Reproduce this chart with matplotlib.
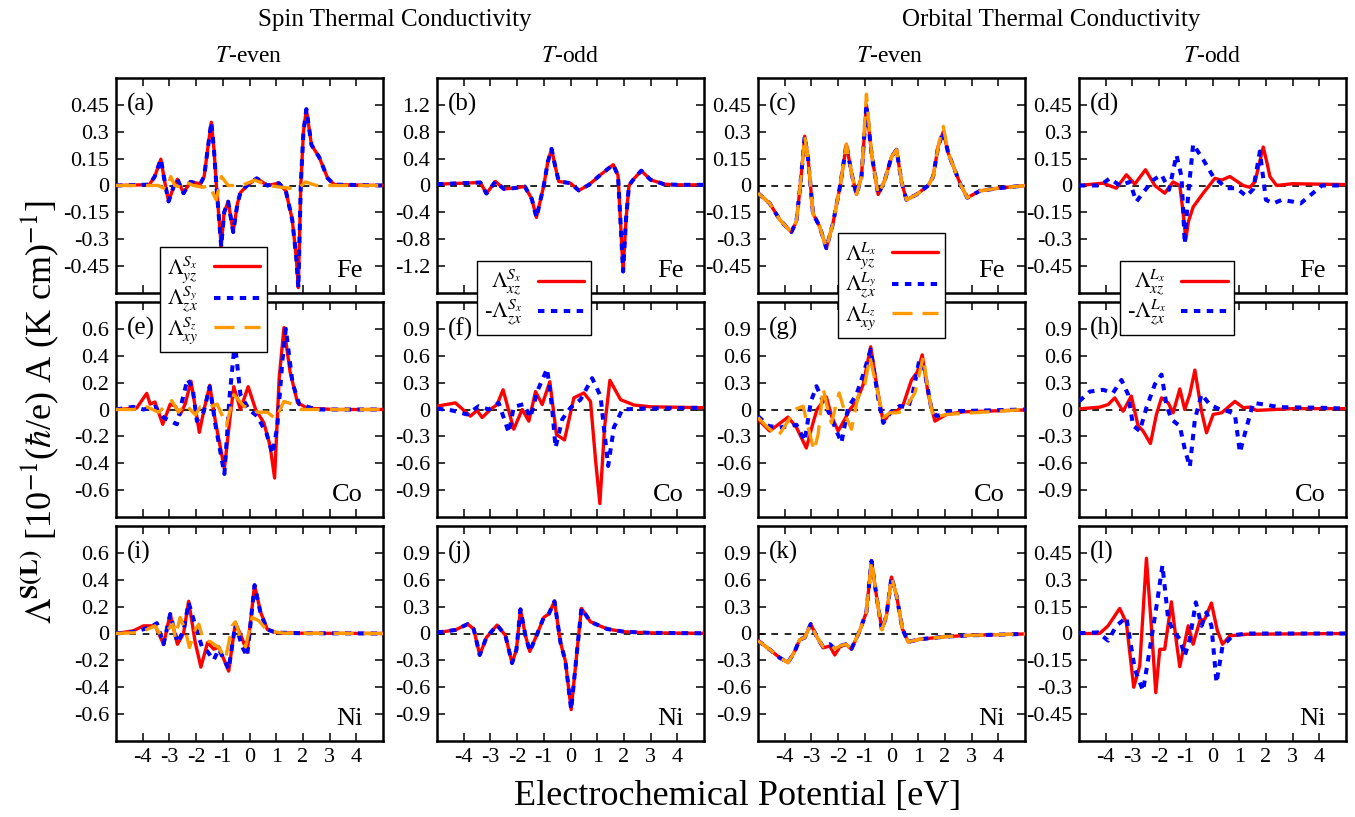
import matplotlib
matplotlib.use('Agg')
import matplotlib.pyplot as plt
from matplotlib.lines import Line2D
from matplotlib.ticker import FormatStrFormatter

plt.rcParams['font.family'] = ['Liberation Serif', 'DejaVu Serif']
plt.rcParams['mathtext.fontset'] = 'stix'
plt.rcParams['axes.unicode_minus'] = False

# ---------------- data ----------------
a_x_r = [-5, -3.75, -3.55, -3.32, -3.15, -3.03, -2.85, -2.7, -2.47, -2.22, -1.84, -1.7, -1.55, -1.43, -1.33, -1.24, -1.06, -0.95, -0.8, -0.61, -0.45, -0.34, -0.09, 0.27, 0.67, 1.1, 1.36, 1.6, 1.75, 1.83, 1.92, 2.02, 2.13, 2.32, 2.61, 2.93, 3.18, 5]
a_y_r = [0, 0.005, 0.05, 0.147, 0.0, -0.089, -0.01, 0.035, -0.043, 0.02, 0.01, 0.05, 0.22, 0.353, 0.2, 0.0, -0.34, -0.15, -0.09, -0.26, -0.1, -0.04, 0.0, 0.04, 0.0, 0.013, -0.03, -0.19, -0.4, -0.57, 0.0, 0.3, 0.426, 0.227, 0.158, 0.04, 0.005, 0]
a_x_o = [-5, -3.4, -3.3, -3.1, -2.95, -2.8, -2.55, -2.4, -2.1, -1.75, -1.5, -1.25, -1.05, -0.8, -0.3, 0.2, 0.7, 1.2, 1.8, 2.1, 2.5, 5]
a_y_o = [0, 0, -0.01, -0.02, 0.05, 0.0, -0.01, 0.02, 0.0, -0.01, 0.0, -0.08, 0.05, 0.0, 0.0, 0.03, 0.0, -0.01, -0.02, 0.02, 0.0, 0]

b_x = [-5, -4, -3.375, -3.15, -2.81, -2.5, -2.125, -1.71, -1.45, -1.275, -1.0, -0.85, -0.71, -0.58, -0.44, 0.0, 0.31, 0.69, 1.125, 1.6, 1.78, 1.88, 1.97, 2.08, 2.19, 2.375, 2.65, 3.0, 3.5, 4, 5]
b_y = [0.02, 0.035, 0.045, -0.12, 0.06, -0.05, -0.04, -0.015, -0.2, -0.476, 0.0, 0.35, 0.545, 0.3, 0.06, 0.035, -0.074, 0.01, 0.16, 0.31, 0.15, -0.6, -1.28, -0.5, 0.0, 0.1, 0.22, 0.085, 0.02, 0.01, 0.01]

c_x = [-5, -4.56, -4.19, -3.75, -3.56, -3.41, -3.25, -3.125, -2.94, -2.69, -2.44, -2.19, -1.91, -1.69, -1.5, -1.31, -1.125, -0.94, -0.75, -0.5, -0.25, 0.0, 0.19, 0.375, 0.56, 0.94, 1.375, 1.56, 1.75, 1.94, 2.125, 2.44, 2.6, 2.84, 3.31, 4, 5]
c_y_r = [-0.043, -0.1, -0.19, -0.26, -0.2, 0.01, 0.275, 0.15, -0.156, -0.23, -0.35, -0.21, 0.01, 0.23, 0.07, -0.05, 0.05, 0.45, 0.18, -0.05, 0.03, 0.16, 0.2, 0.02, -0.08, -0.05, 0.0, 0.05, 0.22, 0.3, 0.18, 0.06, 0.0, -0.068, -0.03, -0.015, 0]
c_y_o = [-0.043, -0.1, -0.19, -0.26, -0.2, 0.01, 0.275, 0.15, -0.156, -0.23, -0.35, -0.21, 0.01, 0.23, 0.07, -0.05, 0.05, 0.51, 0.18, -0.05, 0.03, 0.16, 0.2, 0.02, -0.08, -0.05, 0.0, 0.05, 0.22, 0.33, 0.18, 0.06, 0.0, -0.068, -0.03, -0.015, 0]

d_x_r = [-5, -4.1, -3.6, -3.225, -2.91, -2.51, -2.16, -1.79, -1.475, -1.225, -1.1, -1.0, -0.9, -0.725, -0.35, 0.09, 0.34, 0.65, 1.15, 1.4, 1.59, 1.75, 1.9, 2.05, 2.15, 2.4, 3, 5]
d_y_r = [0, 0.013, -0.015, 0.06, 0.008, 0.088, 0.0, -0.043, 0.02, 0.0, -0.15, -0.3, -0.2, -0.12, -0.043, 0.04, 0.03, 0.05, 0.0, -0.01, 0.02, 0.12, 0.215, 0.12, 0.05, 0.0, 0.01, 0.005]
d_x_b = [-5, -4.2, -3.85, -3.475, -3.1, -2.85, -2.6, -2.225, -1.91, -1.625, -1.35, -1.16, -1.04, -0.91, -0.725, -0.35, 0.025, 0.525, 0.9, 1.275, 1.525, 1.775, 2.0, 2.275, 2.6, 3.0, 3.3, 3.7, 4.1, 5]
d_y_b = [0, 0.0, 0.04, 0.0, 0.02, -0.09, -0.04, 0.03, 0.06, -0.024, 0.17, 0.05, -0.325, -0.05, 0.23, 0.145, 0.05, -0.015, -0.015, -0.06, -0.02, 0.19, -0.08, -0.1, -0.08, -0.09, -0.1, -0.05, 0.0, 0]

e_x_r = [-5, -4.23, -3.85, -3.72, -3.54, -3.25, -2.97, -2.78, -2.6, -2.41, -2.19, -1.88, -1.69, -1.49, -1.28, -0.94, -0.74, -0.59, -0.34, -0.05, 0.23, 0.54, 0.77, 0.94, 1.11, 1.29, 1.52, 1.8, 2.17, 3.18, 5]
e_y_r = [0, 0.01, 0.12, 0.04, 0.056, -0.11, 0.04, 0.025, -0.04, 0.04, 0.21, -0.17, 0.01, 0.18, -0.086, -0.44, -0.08, 0.17, 0.0, 0.17, 0.0, -0.1, -0.27, -0.51, 0.23, 0.61, 0.28, 0.05, 0.01, 0.0, 0]
e_x_b = [-5, -4.35, -3.97, -3.54, -3.22, -2.72, -2.47, -2.32, -2.13, -1.97, -1.72, -1.49, -1.28, -0.94, -0.74, -0.55, -0.34, -0.02, 0.29, 0.64, 0.86, 1.04, 1.23, 1.36, 1.61, 1.86, 2.5, 5]
e_y_b = [0, 0.02, 0.0, 0.02, -0.06, -0.11, 0.11, 0.225, 0.16, -0.086, -0.02, 0.17, -0.11, -0.48, 0.11, 0.5, 0.11, 0.0, -0.05, -0.18, -0.33, -0.13, 0.36, 0.6, 0.2, 0.04, 0.0, 0]
e_x_o = [-5, -4.35, -3.85, -3.41, -2.91, -2.66, -2.41, -2.03, -1.84, -1.47, -1.21, -0.86, -0.59, -0.21, 0.29, 0.67, 0.98, 1.29, 1.61, 1.92, 5]
e_y_o = [0, 0.0, 0.02, -0.02, 0.066, -0.02, 0.04, -0.04, 0.02, 0.02, 0.04, -0.12, 0.11, 0.025, -0.02, -0.02, -0.07, 0.06, 0.04, 0.0, 0]

f_x_r = [-5, -4.31, -3.75, -3.5, -3.31, -3.0, -2.75, -2.525, -2.125, -1.81, -1.56, -1.31, -1.06, -0.775, -0.525, -0.225, 0.125, 0.5, 0.75, 0.94, 1.1, 1.275, 1.475, 1.875, 2.375, 3.0, 5]
f_y_r = [0.037, 0.074, -0.074, -0.01, -0.09, 0.0, 0.055, 0.22, -0.22, 0.0, -0.13, 0.2, 0.055, 0.31, -0.28, -0.34, 0.13, 0.185, 0.09, -0.57, -1.05, -0.2, 0.326, 0.11, 0.05, 0.03, 0.02]
f_x_b = [-5, -4.44, -3.875, -3.44, -3.06, -2.69, -2.31, -2.125, -1.75, -1.5, -1.25, -0.875, -0.69, -0.56, -0.31, 0.0, 0.375, 0.81, 1.125, 1.25, 1.41, 1.625, 1.94, 2.625, 5]
f_y_b = [0.01, -0.01, -0.055, 0.037, 0.0, 0.074, -0.26, 0.03, 0.06, -0.09, 0.2, 0.455, 0.02, -0.425, -0.11, 0.02, 0.11, 0.35, 0.15, -0.2, -0.63, -0.2, 0.0, 0.01, 0.02]

g_x_r = [-5, -4.56, -4.25, -3.875, -3.56, -3.19, -2.94, -2.79, -2.44, -2.25, -2.0, -1.75, -1.56, -1.31, -1.06, -0.78, -0.56, -0.31, -0.06, 0.19, 0.44, 0.75, 0.97, 1.15, 1.375, 1.625, 2.06, 2.69, 5]
g_y_r = [-0.11, -0.24, -0.17, -0.085, -0.2, -0.43, -0.15, 0.0, 0.14, -0.07, -0.24, -0.11, 0.0, 0.09, 0.28, 0.7, 0.28, -0.14, -0.037, -0.02, 0.055, 0.33, 0.42, 0.61, 0.17, -0.13, -0.055, -0.026, -0.005]
g_x_b = [-5, -4.6, -4.19, -3.81, -3.56, -3.25, -3.02, -2.81, -2.56, -2.31, -2.06, -1.875, -1.625, -1.31, -1.06, -0.78, -0.5, -0.31, 0.0, 0.31, 0.625, 0.81, 1.04, 1.22, 1.5, 1.69, 2.19, 5]
g_y_b = [-0.074, -0.185, -0.2, -0.185, -0.17, -0.35, 0.09, 0.26, 0.09, -0.055, -0.24, -0.37, 0.02, 0.17, 0.39, 0.67, 0.13, -0.15, -0.02, 0.04, 0.02, 0.2, 0.55, 0.46, 0.0, -0.074, -0.02, 0]
g_x_o = [-5, -4.69, -4.25, -3.875, -3.625, -3.31, -3.125, -2.9, -2.75, -2.56, -2.375, -2.25, -1.96, -1.69, -1.5, -1.25, -1.0, -0.81, -0.5, -0.31, -0.06, 0.19, 0.44, 0.875, 1.19, 1.375, 1.56, 2.06, 5]
g_y_o = [-0.09, -0.185, -0.3, -0.13, 0.0, 0.037, -0.2, -0.46, -0.28, 0.24, -0.02, -0.15, 0.185, -0.09, -0.22, 0.15, 0.28, 0.59, 0.17, -0.09, -0.037, -0.037, -0.02, 0.185, 0.59, 0.2, -0.09, -0.055, 0]

h_x_r = [-5, -4.225, -3.91, -3.66, -3.35, -3.04, -2.79, -2.6, -2.325, -2.1, -1.91, -1.66, -1.475, -1.225, -1.04, -0.85, -0.66, -0.41, -0.225, 0.025, 0.34, 0.84, 1.15, 1.4, 1.65, 3, 5]
h_y_r = [0.007, 0.026, 0.055, 0.13, -0.02, 0.15, -0.18, -0.24, -0.38, -0.055, 0.13, 0.074, -0.037, 0.23, 0.0, 0.17, 0.44, -0.02, -0.26, -0.055, -0.037, 0.09, 0.02, 0.026, -0.01, 0.01, 0.01]
h_x_b = [-5, -4.6, -4.1, -3.725, -3.41, -3.16, -2.975, -2.725, -2.475, -2.16, -1.91, -1.725, -1.54, -1.225, -1.04, -0.85, -0.66, -0.41, -0.1, 0.275, 0.59, 0.84, 1.025, 1.275, 1.525, 1.96, 2.5, 4, 5]
h_y_b = [0.09, 0.2, 0.22, 0.185, 0.33, 0.167, -0.18, -0.24, 0.02, 0.28, 0.39, 0.055, -0.11, -0.185, -0.44, -0.64, -0.11, 0.17, 0.055, 0.0, -0.02, -0.055, -0.48, -0.2, 0.074, 0.055, 0.026, 0.02, 0.01]

i_x_r = [-5, -4.35, -3.97, -3.53, -3.22, -2.97, -2.7, -2.47, -2.28, -2.03, -1.82, -1.57, -1.34, -1.15, -0.78, -0.53, -0.27, -0.09, 0.19, 0.42, 0.67, 0.98, 1.92, 5]
i_y_r = [0, 0.02, 0.057, 0.057, -0.08, 0.145, -0.08, 0.0, 0.24, -0.07, -0.25, -0.067, -0.117, -0.1, -0.28, 0.08, -0.04, -0.14, 0.36, 0.157, 0.03, 0.007, 0.002, 0]
i_x_b = [-5, -4.35, -3.72, -3.47, -3.22, -2.97, -2.7, -2.47, -2.28, -1.97, -1.78, -1.59, -1.34, -1.15, -0.78, -0.53, -0.27, -0.09, 0.19, 0.42, 0.67, 0.98, 1.92, 5]
i_y_b = [0, 0.012, 0.045, 0.077, -0.08, 0.145, -0.067, 0.02, 0.23, 0.02, -0.1, -0.13, -0.197, -0.117, -0.265, 0.07, -0.1, -0.17, 0.36, 0.145, 0.03, 0.007, 0.002, 0]
i_x_o = [-5, -4.1, -3.54, -3.35, -3.16, -2.87, -2.78, -2.6, -2.41, -2.25, -2.03, -1.9, -1.72, -1.47, -1.15, -0.9, -0.65, -0.53, -0.34, -0.15, 0.1, 0.35, 0.67, 1.29, 5]
i_y_o = [0, 0.007, 0.057, -0.005, 0.007, 0.07, -0.03, 0.12, 0.03, -0.105, 0.03, 0.07, -0.055, -0.06, -0.105, -0.19, 0.057, 0.087, -0.03, -0.1, 0.12, 0.095, 0.02, 0.002, 0]

j_x = [-5, -4.31, -3.85, -3.625, -3.4, -3.15, -2.75, -2.44, -2.19, -2.025, -1.875, -1.69, -1.525, -1.25, -1.0, -0.81, -0.6, -0.375, -0.19, 0.025, 0.25, 0.41, 0.75, 1.375, 2.0, 3.0, 5]
j_y = [0.01, 0.04, 0.105, 0.05, -0.24, -0.045, 0.094, -0.02, -0.33, -0.18, 0.27, -0.02, -0.2, -0.007, 0.18, 0.22, 0.36, -0.1, -0.31, -0.85, -0.18, 0.28, 0.13, 0.05, 0.02, 0.007, 0.002]

k_x = [-5, -4.56, -4.19, -3.875, -3.625, -3.44, -3.25, -3.025, -2.81, -2.56, -2.31, -2.125, -1.94, -1.71, -1.5, -1.19, -0.94, -0.75, -0.54, -0.36, -0.19, 0.0, 0.19, 0.41, 0.625, 1.06, 2.06, 3.0, 5]
k_y_r = [-0.08, -0.18, -0.27, -0.325, -0.2, -0.07, -0.045, 0.105, -0.03, -0.16, -0.14, -0.24, -0.15, -0.12, -0.176, 0.03, 0.24, 0.81, 0.37, 0.05, 0.2, 0.63, 0.42, 0.05, -0.094, -0.064, -0.034, -0.02, -0.005]
k_y_b = [-0.08, -0.18, -0.27, -0.325, -0.2, -0.07, -0.045, 0.105, -0.03, -0.15, -0.12, -0.17, -0.14, -0.12, -0.17, 0.03, 0.24, 0.81, 0.37, 0.04, 0.2, 0.63, 0.42, 0.05, -0.094, -0.064, -0.034, -0.02, -0.005]

l_x_r = [-5, -4.225, -3.91, -3.475, -3.225, -2.95, -2.725, -2.475, -2.29, -2.125, -1.975, -1.79, -1.54, -1.35, -1.225, -0.91, -0.725, -0.475, -0.29, -0.04, 0.175, 0.375, 0.65, 1.275, 5]
l_y_r = [0, 0.0, 0.043, 0.14, 0.06, -0.3, -0.18, 0.42, 0.04, -0.33, -0.088, -0.088, 0.177, -0.05, -0.185, 0.043, -0.06, 0.07, 0.08, 0.17, 0.02, -0.06, -0.013, -0.004, 0]
l_x_b = [-5, -4.29, -3.91, -3.6, -3.225, -2.91, -2.6, -2.35, -2.075, -1.875, -1.66, -1.475, -1.225, -1.04, -0.85, -0.625, -0.41, -0.225, -0.04, 0.15, 0.375, 0.775, 1.275, 5]
l_y_b = [0.002, 0.006, -0.04, 0.043, 0.09, -0.2, -0.32, -0.088, 0.174, 0.38, 0.08, 0.015, -0.03, -0.125, -0.03, 0.174, 0.043, 0.118, 0.043, -0.275, -0.07, -0.01, 0.0, 0]

panel_letters = list('abcdefghijkl')
elements = ['Fe'] * 4 + ['Co'] * 4 + ['Ni'] * 4
x_ticks = [-4, -3, -2, -1, 0, 1, 2, 3, 4]
t45 = [-0.45, -0.3, -0.15, 0, 0.15, 0.3, 0.45]
t12 = [-1.2, -0.8, -0.4, 0, 0.4, 0.8, 1.2]
t6 = [-0.6, -0.4, -0.2, 0, 0.2, 0.4, 0.6]
t9 = [-0.9, -0.6, -0.3, 0, 0.3, 0.6, 0.9]

# ---------------- styles ----------------
RED, BLUE, ORANGE = '#ff0000', '#0000ff', '#ff9900'
sty = {
    'r': dict(color=RED, lw=2.4, solid_joinstyle='round', solid_capstyle='round', zorder=3),
    'b': dict(color=BLUE, lw=2.9, dashes=(1.6, 1.6), zorder=4),
    'o': dict(color=ORANGE, lw=2.4, dashes=(6, 3), zorder=5),
}

panels = [
    (t45, 0.6, [(a_x_r, a_y_r, 'r'), (a_x_r, a_y_r, 'b'), (a_x_o, a_y_o, 'o')]),
    (t12, 1.6, [(b_x, b_y, 'r'), (b_x, b_y, 'b')]),
    (t45, 0.6, [(c_x, c_y_r, 'r'), (c_x, c_y_r, 'b'), (c_x, c_y_o, 'o')]),
    (t45, 0.6, [(d_x_r, d_y_r, 'r'), (d_x_b, d_y_b, 'b')]),
    (t6, 0.8, [(e_x_r, e_y_r, 'r'), (e_x_b, e_y_b, 'b'), (e_x_o, e_y_o, 'o')]),
    (t9, 1.2, [(f_x_r, f_y_r, 'r'), (f_x_b, f_y_b, 'b')]),
    (t9, 1.2, [(g_x_r, g_y_r, 'r'), (g_x_b, g_y_b, 'b'), (g_x_o, g_y_o, 'o')]),
    (t9, 1.2, [(h_x_r, h_y_r, 'r'), (h_x_b, h_y_b, 'b')]),
    (t6, 0.8, [(i_x_r, i_y_r, 'r'), (i_x_b, i_y_b, 'b'), (i_x_o, i_y_o, 'o')]),
    (t9, 1.2, [(j_x, j_y, 'r'), (j_x, j_y, 'b')]),
    (t9, 1.2, [(k_x, k_y_r, 'r'), (k_x, k_y_b, 'b'), (k_x, k_y_b, 'o')]),
    (t45, 0.6, [(l_x_r, l_y_r, 'r'), (l_x_b, l_y_b, 'b')]),
]

W, H = 1355, 817
fig = plt.figure(figsize=(W / 100, H / 100), dpi=100)
col_left = [116, 437, 758, 1079]
row_top = [78, 302, 526]
aw, ah = 267, 215

for idx, (yt, ylim, curves) in enumerate(panels):
    r, c = divmod(idx, 4)
    ax = fig.add_axes([col_left[c] / W, 1 - (row_top[r] + ah) / H, aw / W, ah / H])
    ax.axhline(0, color='black', lw=1.2, dashes=(4, 4), zorder=1)
    for xs, ys, s in curves:
        ax.plot(xs, ys, **sty[s])
    ax.set_xlim(-5, 5)
    ax.set_ylim(-ylim, ylim)
    ax.set_xticks(x_ticks)
    ax.set_yticks(yt)
    ax.yaxis.set_major_formatter(FormatStrFormatter('%g'))
    ax.tick_params(direction='in', length=6, width=1.1, top=True, right=True,
                   labelsize=16, pad=5)
    if r < 2:
        ax.tick_params(labelbottom=False)
    for sp in ax.spines.values():
        sp.set_linewidth(1.8)
    ax.text(0.04, 0.875, '(%s)' % panel_letters[idx], transform=ax.transAxes,
            fontsize=18, ha='left', va='center')
    ax.text(0.925, 0.074, elements[idx], transform=ax.transAxes,
            fontsize=19, ha='right', va='baseline')

# ---------------- legends ----------------
def H_(s):
    return Line2D([], [], **sty[s])

leg_kw = dict(loc='upper left', bbox_transform=fig.transFigure, markerfirst=False,
              frameon=True, fancybox=False, edgecolor='black', framealpha=1,
              fontsize=16, handlelength=2.1, handletextpad=0.7, labelspacing=-0.02,
              borderpad=0.3, borderaxespad=0)

def add_leg(handles, labels, x, y):
    lg = fig.legend(handles, labels, bbox_to_anchor=(x / W, 1 - y / H), **leg_kw)
    lg.get_frame().set_linewidth(1.0)
    lg.set_zorder(20)

add_leg([H_('r'), H_('b'), H_('o')],
        [r'$\Lambda^{S_x}_{yz}$', r'$\Lambda^{S_y}_{zx}$', r'$\Lambda^{S_z}_{xy}$'], 160, 247)
add_leg([H_('r'), H_('b')],
        [r'$\Lambda^{S_x}_{xz}$', r'-$\Lambda^{S_x}_{zx}$'], 477, 261)
add_leg([H_('r'), H_('b'), H_('o')],
        [r'$\Lambda^{L_x}_{yz}$', r'$\Lambda^{L_y}_{zx}$', r'$\Lambda^{L_z}_{xy}$'], 838, 233)
add_leg([H_('r'), H_('b')],
        [r'$\Lambda^{L_x}_{xz}$', r'-$\Lambda^{L_x}_{zx}$'], 1120, 261)

# ---------------- titles and axis labels ----------------
fig.text(395 / W, 1 - 20 / H, 'Spin Thermal Conductivity', fontsize=18, ha='center', va='center')
fig.text(1051 / W, 1 - 20 / H, 'Orbital Thermal Conductivity', fontsize=18, ha='center', va='center')
for cx, t in zip([249, 570, 890, 1212], [r'$T$-even', r'$T$-odd', r'$T$-even', r'$T$-odd']):
    fig.text(cx / W, 1 - 57 / H, t, fontsize=17, ha='center', va='center')

fig.text(738 / W, 1 - 797 / H, 'Electrochemical Potential [eV]', fontsize=26,
         ha='center', va='center')
fig.text(40 / W, 1 - 412 / H,
         r'$\Lambda^{\mathbf{S(L)}}$ [10$^{-1}$($\hbar$/e) A (K cm)$^{-1}$]',
         fontsize=26, ha='center', va='center', rotation=90)

fig.savefig('out.png', dpi=100)
